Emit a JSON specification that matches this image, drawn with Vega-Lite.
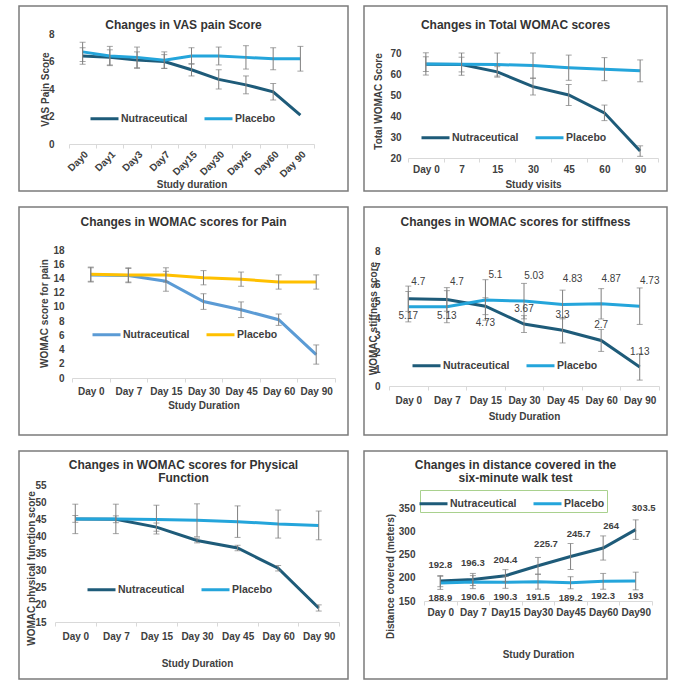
{
  "$schema": "https://vega.github.io/schema/vega-lite/v6.json",
  "background": "white",
  "padding": {"left": 18, "top": 5, "right": 4, "bottom": 4},
  "spacing": 14,
  "config": {
    "font": "Liberation Sans",
    "view": {"stroke": "#7b7b7b", "strokeWidth": 1.5},
    "axis": {"grid": false, "labelFontSize": 10, "labelFontWeight": "bold", "labelColor": "#404040", "titleFontSize": 10, "titleFontWeight": "bold", "titleColor": "#404040", "domainColor": "#d9d9d9", "tickColor": "#d9d9d9"},
    "axisX": {"labelAngle": 0, "tickBand": "extent", "tickSize": 4, "titleBaseline": "middle"},
    "axisY": {"domain": false, "ticks": false, "labelPadding": 2, "titleAngle": -90, "titleAlign": "center", "titleBaseline": "middle"},
    "title": {"fontSize": 12, "fontWeight": "bold", "color": "#333333", "anchor": "middle", "baseline": "middle", "lineHeight": 13},
    "legend": {"orient": "none", "direction": "horizontal", "symbolType": "M-1.4,0H1.4", "symbolSize": 400, "symbolStrokeWidth": 3, "labelFontSize": 10.5, "labelFontWeight": "bold", "labelColor": "#404040", "labelOffset": 5, "columnPadding": 10, "padding": 0},
    "line": {"strokeWidth": 3}
  },
  "datasets": {
    "vas": [
      {"group": "Nutraceutical", "day": "Day0", "v": 6.4, "sd": 0.6},
      {"group": "Nutraceutical", "day": "Day1", "v": 6.3, "sd": 0.55},
      {"group": "Nutraceutical", "day": "Day3", "v": 6.1, "sd": 0.6},
      {"group": "Nutraceutical", "day": "Day7", "v": 6.0, "sd": 0.5},
      {"group": "Nutraceutical", "day": "Day15", "v": 5.4, "sd": 0.45},
      {"group": "Nutraceutical", "day": "Day30", "v": 4.7, "sd": 0.7},
      {"group": "Nutraceutical", "day": "Day45", "v": 4.3, "sd": 0.65},
      {"group": "Nutraceutical", "day": "Day60", "v": 3.8, "sd": 0.6},
      {"group": "Nutraceutical", "day": "Day 90", "v": 2.1, "sd": 0},
      {"group": "Placebo", "day": "Day0", "v": 6.7, "sd": 0.7},
      {"group": "Placebo", "day": "Day1", "v": 6.4, "sd": 0.7},
      {"group": "Placebo", "day": "Day3", "v": 6.3, "sd": 0.75},
      {"group": "Placebo", "day": "Day7", "v": 6.1, "sd": 0.6},
      {"group": "Placebo", "day": "Day15", "v": 6.4, "sd": 0.6},
      {"group": "Placebo", "day": "Day30", "v": 6.4, "sd": 0.65},
      {"group": "Placebo", "day": "Day45", "v": 6.3, "sd": 0.85},
      {"group": "Placebo", "day": "Day60", "v": 6.2, "sd": 0.8},
      {"group": "Placebo", "day": "Day 90", "v": 6.2, "sd": 0.9}
    ],
    "womac": [
      {"group": "Nutraceutical", "day": "Day 0", "v": 64.7, "sd": 3.5},
      {"group": "Nutraceutical", "day": "7", "v": 64.5, "sd": 3.5},
      {"group": "Nutraceutical", "day": "15", "v": 61, "sd": 2.5},
      {"group": "Nutraceutical", "day": "30", "v": 54, "sd": 4},
      {"group": "Nutraceutical", "day": "45", "v": 50, "sd": 5},
      {"group": "Nutraceutical", "day": "60", "v": 41.5, "sd": 3.7},
      {"group": "Nutraceutical", "day": "90", "v": 23.3, "sd": 2.5},
      {"group": "Placebo", "day": "Day 0", "v": 64.8, "sd": 5.3},
      {"group": "Placebo", "day": "7", "v": 64.7, "sd": 5.3},
      {"group": "Placebo", "day": "15", "v": 64.5, "sd": 5.5},
      {"group": "Placebo", "day": "30", "v": 64, "sd": 6},
      {"group": "Placebo", "day": "45", "v": 63, "sd": 6},
      {"group": "Placebo", "day": "60", "v": 62.3, "sd": 5.5},
      {"group": "Placebo", "day": "90", "v": 61.5, "sd": 5.2}
    ],
    "pain": [
      {"group": "Nutraceutical", "day": "Day 0", "v": 14.5, "sd": 1.0},
      {"group": "Nutraceutical", "day": "Day 7", "v": 14.4, "sd": 1.0},
      {"group": "Nutraceutical", "day": "Day 15", "v": 13.6, "sd": 1.4},
      {"group": "Nutraceutical", "day": "Day 30", "v": 10.75, "sd": 1.1},
      {"group": "Nutraceutical", "day": "Day 45", "v": 9.6, "sd": 1.1},
      {"group": "Nutraceutical", "day": "Day 60", "v": 8.2, "sd": 0.8},
      {"group": "Nutraceutical", "day": "Day 90", "v": 3.3, "sd": 1.35},
      {"group": "Placebo", "day": "Day 0", "v": 14.6, "sd": 1.0},
      {"group": "Placebo", "day": "Day 7", "v": 14.5, "sd": 1.0},
      {"group": "Placebo", "day": "Day 15", "v": 14.5, "sd": 1.0},
      {"group": "Placebo", "day": "Day 30", "v": 14.1, "sd": 1.0},
      {"group": "Placebo", "day": "Day 45", "v": 13.9, "sd": 1.0},
      {"group": "Placebo", "day": "Day 60", "v": 13.5, "sd": 1.0},
      {"group": "Placebo", "day": "Day 90", "v": 13.5, "sd": 1.0}
    ],
    "stiff": [
      {"group": "Nutraceutical", "day": "Day 0", "v": 5.17, "sd": 0.75},
      {"group": "Nutraceutical", "day": "Day 7", "v": 5.13, "sd": 0.7},
      {"group": "Nutraceutical", "day": "Day 15", "v": 4.73, "sd": 0.5},
      {"group": "Nutraceutical", "day": "Day 30", "v": 3.67, "sd": 0.5},
      {"group": "Nutraceutical", "day": "Day 45", "v": 3.3, "sd": 0.75},
      {"group": "Nutraceutical", "day": "Day 60", "v": 2.7, "sd": 0.65},
      {"group": "Nutraceutical", "day": "Day 90", "v": 1.13, "sd": 0.78},
      {"group": "Placebo", "day": "Day 0", "v": 4.7, "sd": 0.9},
      {"group": "Placebo", "day": "Day 7", "v": 4.7, "sd": 0.95},
      {"group": "Placebo", "day": "Day 15", "v": 5.1, "sd": 1.2},
      {"group": "Placebo", "day": "Day 30", "v": 5.03, "sd": 1.05},
      {"group": "Placebo", "day": "Day 45", "v": 4.83, "sd": 0.85},
      {"group": "Placebo", "day": "Day 60", "v": 4.87, "sd": 0.9},
      {"group": "Placebo", "day": "Day 90", "v": 4.73, "sd": 1.08}
    ],
    "phys": [
      {"group": "Nutraceutical", "day": "Day 0", "v": 45.1, "sd": 1.0},
      {"group": "Nutraceutical", "day": "Day 7", "v": 45.0, "sd": 1.0},
      {"group": "Nutraceutical", "day": "Day 15", "v": 42.7, "sd": 1.2},
      {"group": "Nutraceutical", "day": "Day 30", "v": 38.8, "sd": 0.7},
      {"group": "Nutraceutical", "day": "Day 45", "v": 36.6, "sd": 0.8},
      {"group": "Nutraceutical", "day": "Day 60", "v": 30.7, "sd": 0.8},
      {"group": "Nutraceutical", "day": "Day 90", "v": 19.1, "sd": 0.9},
      {"group": "Placebo", "day": "Day 0", "v": 45.1, "sd": 4.3},
      {"group": "Placebo", "day": "Day 7", "v": 45.1, "sd": 4.3},
      {"group": "Placebo", "day": "Day 15", "v": 44.9, "sd": 4.2},
      {"group": "Placebo", "day": "Day 30", "v": 44.7, "sd": 4.8},
      {"group": "Placebo", "day": "Day 45", "v": 44.3, "sd": 4.6},
      {"group": "Placebo", "day": "Day 60", "v": 43.6, "sd": 4.1},
      {"group": "Placebo", "day": "Day 90", "v": 43.2, "sd": 4.2}
    ],
    "walk": [
      {"group": "Nutraceutical", "day": "Day 0", "v": 192.8, "sd": 12},
      {"group": "Nutraceutical", "day": "Day 7", "v": 196.3, "sd": 13},
      {"group": "Nutraceutical", "day": "Day15", "v": 204.4, "sd": 13},
      {"group": "Nutraceutical", "day": "Day30", "v": 225.7, "sd": 18},
      {"group": "Nutraceutical", "day": "Day45", "v": 245.7, "sd": 28},
      {"group": "Nutraceutical", "day": "Day60", "v": 264, "sd": 26},
      {"group": "Nutraceutical", "day": "Day90", "v": 303.5, "sd": 21},
      {"group": "Placebo", "day": "Day 0", "v": 188.9, "sd": 14},
      {"group": "Placebo", "day": "Day 7", "v": 190.6, "sd": 14},
      {"group": "Placebo", "day": "Day15", "v": 190.3, "sd": 13},
      {"group": "Placebo", "day": "Day30", "v": 191.5, "sd": 16},
      {"group": "Placebo", "day": "Day45", "v": 189.2, "sd": 13},
      {"group": "Placebo", "day": "Day60", "v": 192.3, "sd": 17},
      {"group": "Placebo", "day": "Day90", "v": 193, "sd": 19}
    ]
  },
  "resolve": {"scale": {"color": "independent"}, "legend": {"color": "independent"}},
  "vconcat": [
    {
      "spacing": 14,
      "resolve": {"scale": {"color": "independent"}, "legend": {"color": "independent"}},
      "hconcat": [
        {
          "width": 329, "height": 185,
          "title": {"text": "Changes in VAS pain Score", "offset": -26},
          "data": {"name": "vas"},
          "encoding": {
            "x": {"field": "day", "type": "nominal",
              "scale": {"type": "band", "domain": ["Day0", "Day1", "Day3", "Day7", "Day15", "Day30", "Day45", "Day60", "Day 90"], "range": [50, 295], "paddingInner": 0, "paddingOuter": 0},
              "axis": {"title": "Study duration", "offset": -47, "labelAngle": -45, "labelPadding": 1, "titleY": 40}},
            "y": {"field": "v", "type": "quantitative",
              "scale": {"domain": [0, 8], "range": [138, 28], "nice": false, "zero": false},
              "axis": {"title": "VAS Pain Score", "offset": -37, "values": [0, 2, 4, 6, 8], "titleX": -11, "titleY": 83}}
          },
          "layer": [
            {"mark": "line", "encoding": {"color": {"field": "group", "type": "nominal", "scale": {"domain": ["Nutraceutical", "Placebo"], "range": ["#1e5b79", "#24a5db"]}, "legend": {"title": null, "legendX": 74, "legendY": 101}}}},
            {"transform": [{"filter": "datum.sd > 0"}], "mark": {"type": "errorbar", "color": "#7f7f7f", "ticks": {"size": 6}}, "encoding": {"yError": {"field": "sd"}}}
          ]
        },
        {
          "width": 303, "height": 185,
          "title": {"text": "Changes in Total WOMAC scores", "offset": -26},
          "data": {"name": "womac"},
          "encoding": {
            "x": {"field": "day", "type": "nominal",
              "scale": {"type": "band", "domain": ["Day 0", "7", "15", "30", "45", "60", "90"], "range": [44, 294], "paddingInner": 0, "paddingOuter": 0},
              "axis": {"title": "Study visits", "offset": -33, "labelPadding": 2, "titleY": 26}},
            "y": {"field": "v", "type": "quantitative",
              "scale": {"domain": [20, 70], "range": [152, 47], "nice": false, "zero": false},
              "axis": {"title": "Total WOMAC Score", "offset": -39, "values": [20, 30, 40, 50, 60, 70], "titleX": -25, "titleY": 95}}
          },
          "layer": [
            {"mark": "line", "encoding": {"color": {"field": "group", "type": "nominal", "scale": {"domain": ["Nutraceutical", "Placebo"], "range": ["#1e5b79", "#24a5db"]}, "legend": {"title": null, "legendX": 60, "legendY": 120}}}},
            {"mark": {"type": "errorbar", "color": "#7f7f7f", "ticks": {"size": 6}}, "encoding": {"yError": {"field": "sd"}}}
          ]
        }
      ]
    },
    {
      "spacing": 14,
      "resolve": {"scale": {"color": "independent"}, "legend": {"color": "independent"}},
      "hconcat": [
        {
          "width": 329, "height": 228,
          "title": {"text": "Changes in WOMAC scores for Pain", "offset": -22},
          "data": {"name": "pain"},
          "encoding": {
            "x": {"field": "day", "type": "nominal",
              "scale": {"type": "band", "domain": ["Day 0", "Day 7", "Day 15", "Day 30", "Day 45", "Day 60", "Day 90"], "range": [53, 316], "paddingInner": 0, "paddingOuter": 0},
              "axis": {"title": "Study Duration", "offset": -57, "labelPadding": 4, "titleY": 27}},
            "y": {"field": "v", "type": "quantitative",
              "scale": {"domain": [0, 18], "range": [171, 43], "nice": false, "zero": false},
              "axis": {"title": "WOMAC score for pain", "offset": -47, "values": [0, 2, 4, 6, 8, 10, 12, 14, 16, 18], "titleX": -22, "titleY": 106}}
          },
          "layer": [
            {"mark": "line", "encoding": {"color": {"field": "group", "type": "nominal", "scale": {"domain": ["Nutraceutical", "Placebo"], "range": ["#5b9bd5", "#ffc000"]}, "legend": {"title": null, "legendX": 76, "legendY": 116}}}},
            {"mark": {"type": "errorbar", "color": "#7f7f7f", "ticks": {"size": 6}}, "encoding": {"yError": {"field": "sd"}}}
          ]
        },
        {
          "width": 303, "height": 228,
          "title": {"text": "Changes in WOMAC scores for stiffness", "offset": -22},
          "data": {"name": "stiff"},
          "encoding": {
            "x": {"field": "day", "type": "nominal",
              "scale": {"type": "band", "domain": ["Day 0", "Day 7", "Day 15", "Day 30", "Day 45", "Day 60", "Day 90"], "range": [25, 295], "paddingInner": 0, "paddingOuter": 0},
              "axis": {"title": "Study Duration", "offset": -49, "labelPadding": 5, "titleY": 30}},
            "y": {"field": "v", "type": "quantitative",
              "scale": {"domain": [0, 8], "range": [179, 44], "nice": false, "zero": false},
              "axis": {"title": "WOMAC stiffness score", "offset": -18, "values": [0, 1, 2, 3, 4, 5, 6, 7, 8], "titleX": -9, "titleY": 111}}
          },
          "layer": [
            {"mark": "line", "encoding": {"color": {"field": "group", "type": "nominal", "scale": {"domain": ["Nutraceutical", "Placebo"], "range": ["#1e5b79", "#24a5db"]}, "legend": {"title": null, "legendX": 51, "legendY": 147}}}},
            {"mark": {"type": "errorbar", "color": "#7f7f7f", "ticks": {"size": 6}}, "encoding": {"yError": {"field": "sd"}}},
            {"transform": [{"filter": "datum.group == 'Placebo'"}], "mark": {"type": "text", "dx": 10, "dy": -25, "fontSize": 10, "color": "#404040"}, "encoding": {"text": {"field": "v", "type": "nominal"}}},
            {"transform": [{"filter": "datum.group == 'Nutraceutical' && indexof(['Day 0', 'Day 7', 'Day 15'], datum.day) >= 0"}], "mark": {"type": "text", "dy": 17, "fontSize": 10, "color": "#404040"}, "encoding": {"text": {"field": "v", "type": "nominal"}}},
            {"transform": [{"filter": "datum.group == 'Nutraceutical' && indexof(['Day 0', 'Day 7', 'Day 15'], datum.day) < 0"}], "mark": {"type": "text", "dy": -15, "fontSize": 10, "color": "#404040"}, "encoding": {"text": {"field": "v", "type": "nominal"}}}
          ]
        }
      ]
    },
    {
      "spacing": 14,
      "resolve": {"scale": {"color": "independent"}, "legend": {"color": "independent"}},
      "hconcat": [
        {
          "width": 329, "height": 228,
          "title": {"text": ["Changes in WOMAC scores for Physical", "Function"], "offset": -33.5},
          "data": {"name": "phys"},
          "encoding": {
            "x": {"field": "day", "type": "nominal",
              "scale": {"type": "band", "domain": ["Day 0", "Day 7", "Day 15", "Day 30", "Day 45", "Day 60", "Day 90"], "range": [36, 320], "paddingInner": 0, "paddingOuter": 0},
              "axis": {"title": "Study Duration", "offset": -57, "labelPadding": 5, "titleY": 41}},
            "y": {"field": "v", "type": "quantitative",
              "scale": {"domain": [15, 55], "range": [171, 34], "nice": false, "zero": false},
              "axis": {"title": "WOMAC physical function score", "offset": -29, "values": [15, 20, 25, 30, 35, 40, 45, 50, 55], "titleX": -17, "titleY": 117}}
          },
          "layer": [
            {"mark": "line", "encoding": {"color": {"field": "group", "type": "nominal", "scale": {"domain": ["Nutraceutical", "Placebo"], "range": ["#1e5b79", "#24a5db"]}, "legend": {"title": null, "legendX": 71, "legendY": 127}}}},
            {"mark": {"type": "errorbar", "color": "#7f7f7f", "ticks": {"size": 6}}, "encoding": {"yError": {"field": "sd"}}}
          ]
        },
        {
          "width": 303, "height": 228,
          "title": {"text": ["Changes in distance covered in the", "six-minute walk test"], "offset": -33.5},
          "data": {"name": "walk"},
          "encoding": {
            "x": {"field": "day", "type": "nominal",
              "scale": {"type": "band", "domain": ["Day 0", "Day 7", "Day15", "Day30", "Day45", "Day60", "Day90"], "range": [60, 288], "paddingInner": 0, "paddingOuter": 0},
              "axis": {"title": "Study Duration", "offset": -78, "labelPadding": 2, "titleY": 53}},
            "y": {"field": "v", "type": "quantitative",
              "scale": {"domain": [150, 350], "range": [150, 57], "nice": false, "zero": false},
              "axis": {"title": "Distance covered (meters)", "offset": -53, "values": [150, 200, 250, 300, 350], "titleX": -27, "titleY": 125}}
          },
          "layer": [
            {"mark": "line", "encoding": {"color": {"field": "group", "type": "nominal", "scale": {"domain": ["Nutraceutical", "Placebo"], "range": ["#1e5b79", "#24a5db"]}, "legend": {"title": null, "legendX": 56, "legendY": 39, "padding": 2, "strokeColor": "#a9d18e"}}}},
            {"mark": {"type": "errorbar", "color": "#7f7f7f", "ticks": {"size": 6}}, "encoding": {"yError": {"field": "sd"}}},
            {"transform": [{"filter": "datum.group == 'Placebo'"}], "mark": {"type": "text", "dy": 15, "fontSize": 9.5, "fontWeight": "bold", "color": "#404040"}, "encoding": {"text": {"field": "v", "type": "nominal"}}},
            {"transform": [{"filter": "datum.group == 'Nutraceutical' && indexof(['Day 0', 'Day 7', 'Day15'], datum.day) >= 0"}], "mark": {"type": "text", "dy": -16, "fontSize": 9.5, "fontWeight": "bold", "color": "#404040"}, "encoding": {"text": {"field": "v", "type": "nominal"}}},
            {"transform": [{"filter": "datum.group == 'Nutraceutical' && indexof(['Day 0', 'Day 7', 'Day15'], datum.day) < 0"}], "mark": {"type": "text", "dx": 8, "dy": -22, "fontSize": 9.5, "fontWeight": "bold", "color": "#404040"}, "encoding": {"text": {"field": "v", "type": "nominal"}}}
          ]
        }
      ]
    }
  ]
}
